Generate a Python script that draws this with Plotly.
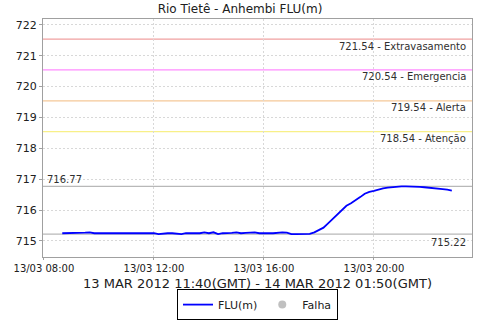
import plotly.graph_objects as go
import pandas as pd

title_text = "Rio Tietê - Anhembi FLU(m)"
xaxis_text = "13 MAR 2012 11:40(GMT) - 14 MAR 2012 01:50(GMT)"

times = pd.date_range("2012-03-13 08:40", "2012-03-13 22:50", freq="10min")
flu = [
    715.25, 715.25, 715.25, 715.25, 715.25, 715.27, 715.28, 715.25,  # 08:40-09:50
    715.25, 715.25, 715.25, 715.25, 715.25, 715.25,  # 10:00-10:50
    715.25, 715.25, 715.25, 715.25, 715.25, 715.25,  # 11:00-11:50
    715.25, 715.22, 715.24, 715.25, 715.25, 715.24,  # 12:00-12:50
    715.22, 715.25, 715.25, 715.26, 715.25, 715.28,  # 13:00-13:50
    715.25, 715.28, 715.22, 715.25, 715.25, 715.26,  # 14:00-14:50
    715.28, 715.25, 715.26, 715.27, 715.28, 715.25,  # 15:00-15:50
    715.26, 715.25, 715.25, 715.27, 715.28, 715.27,  # 16:00-16:50
    715.22, 715.22, 715.22, 715.22, 715.23, 715.28,  # 17:00-17:50
    715.35, 715.43, 715.57, 715.72, 715.86, 716.02,  # 18:00-18:50
    716.14, 716.22, 716.31, 716.42, 716.53, 716.59,  # 19:00-19:50
    716.62, 716.67, 716.70, 716.73, 716.75, 716.76,  # 20:00-20:50
    716.77, 716.77, 716.77, 716.77, 716.75, 716.74,  # 21:00-21:50
    716.73, 716.72, 716.70, 716.68, 716.66, 716.63,  # 22:00-22:50
]

threshold_values = [721.54, 720.54, 719.54, 718.54]
threshold_names = ["Extravasamento", "Emergencia", "Alerta", "Atenção"]
threshold_colors = ["#f0a0a0", "#ff8cff", "#f5c898", "#f8f088"]

max_value = 716.77
min_value = 715.22

x_range = ["2012-03-13 07:58", "2012-03-13 23:34"]
y_range = [714.48, 722.19]

fig = go.Figure()
fig.add_trace(go.Scatter(x=times, y=flu, mode="lines", name="FLU(m)",
                         line=dict(color="#0000ff", width=1.8)))
fig.add_trace(go.Scatter(x=[None], y=[None], mode="markers", name="Falha",
                         marker=dict(color="#c0c0c0", size=8)))

for v, n, c in zip(threshold_values, threshold_names, threshold_colors):
    fig.add_shape(type="line", xref="paper", x0=0, x1=1, y0=v, y1=v,
                  line=dict(color=c, width=1.2), layer="below")
    fig.add_annotation(xref="paper", x=0.99, y=v, yshift=-7, text=f"{v:.2f} - {n}",
                       showarrow=False, xanchor="right", yanchor="middle",
                       font=dict(size=10, color="#303030"))

for v in (max_value, min_value):
    fig.add_shape(type="line", xref="paper", x0=0, x1=1, y0=v, y1=v,
                  line=dict(color="#b8b8b8", width=1.2), layer="below")

fig.add_annotation(xref="paper", x=0.005, y=max_value, yshift=7, text=f"{max_value:.2f}",
                   showarrow=False, xanchor="left", yanchor="middle",
                   font=dict(size=10, color="#303030"))
fig.add_annotation(xref="paper", x=0.99, y=min_value, yshift=-8, text=f"{min_value:.2f}",
                   showarrow=False, xanchor="right", yanchor="middle",
                   font=dict(size=10, color="#303030"))

fig.add_annotation(xref="paper", yref="paper", x=0.5, y=-0.112, text=xaxis_text,
                   showarrow=False, xanchor="center", yanchor="middle",
                   font=dict(size=13, color="#202020"))

fig.update_layout(
    width=480, height=320,
    margin=dict(l=43, r=8, t=19, b=63, autoexpand=False),
    paper_bgcolor="white", plot_bgcolor="white",
    font=dict(family="DejaVu Sans", size=11, color="#202020"),
    title=dict(text=title_text, x=0.5, xanchor="center", y=0.972, yanchor="middle",
               font=dict(size=12, color="#202020")),
    showlegend=True,
    legend=dict(orientation="h", x=0.5, xanchor="center", y=-0.2, yanchor="middle",
                bordercolor="black", borderwidth=1, font=dict(size=11),
                itemwidth=30, tracegroupgap=0),
)
fig.update_xaxes(range=x_range, type="date", dtick=4 * 3600 * 1000,
                 tick0="2012-03-13 08:00", tickformat="%d/%m %H:%M",
                 showgrid=True, gridcolor="#d8d8d8", griddash="2px,2px", gridwidth=1,
                 showline=True, linecolor="#a0a0a0", linewidth=1, mirror=True,
                 ticks="outside", ticklen=2, tickcolor="#a0a0a0",
                 tickfont=dict(size=10), zeroline=False)
fig.update_yaxes(range=y_range, dtick=1, tick0=715,
                 showgrid=True, gridcolor="#d8d8d8", griddash="2px,2px", gridwidth=1,
                 showline=True, linecolor="#a0a0a0", linewidth=1, mirror=True,
                 ticks="outside", ticklen=3, tickcolor="#a0a0a0",
                 tickfont=dict(size=11), zeroline=False)

fig.write_html("out.html")
